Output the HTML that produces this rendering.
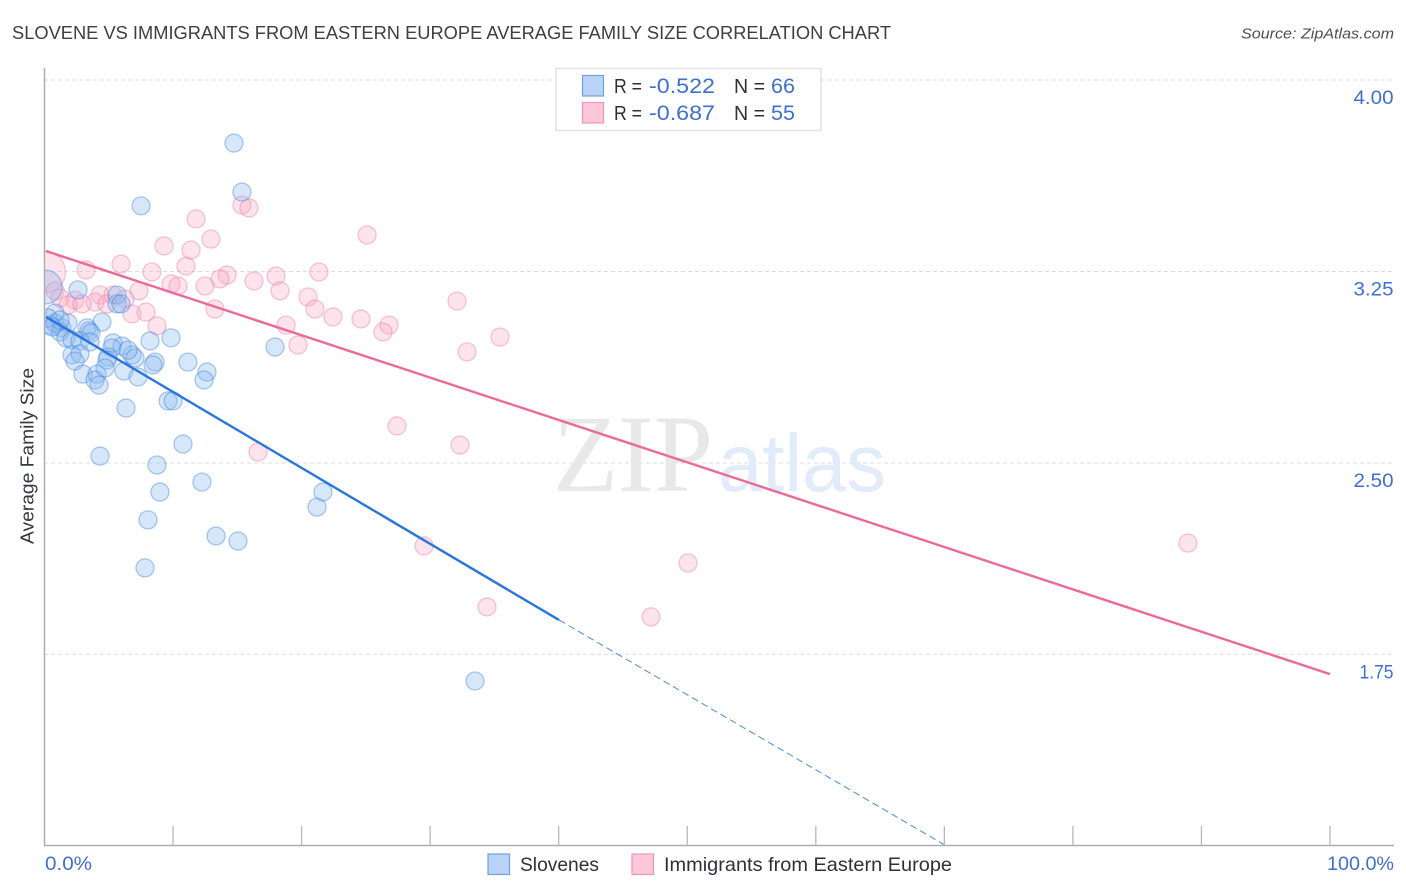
<!DOCTYPE html>
<html lang="en">
<head>
<meta charset="utf-8">
<title>Slovene vs Immigrants from Eastern Europe Average Family Size Correlation Chart</title>
<style>
html,body{margin:0;padding:0;background:#fff;}
svg{display:block;font-family:"Liberation Sans",sans-serif;}
</style>
</head>
<body>
<svg id="chart" xmlns="http://www.w3.org/2000/svg" width="1406" height="892" viewBox="0 0 1406 892">
  <defs>
    <clipPath id="plot-clip"><rect x="45" y="60" width="1349" height="785"/></clipPath>
  </defs>
  <rect x="0" y="0" width="1406" height="892" fill="#ffffff"/>
  <text x="12" y="39" font-size="18.5" fill="#3a4047" textLength="879" lengthAdjust="spacingAndGlyphs">SLOVENE VS IMMIGRANTS FROM EASTERN EUROPE AVERAGE FAMILY SIZE CORRELATION CHART</text>
  <text x="1394" y="38.500" font-size="15" font-style="italic" fill="#4a4f55" text-anchor="end" textLength="153" lengthAdjust="spacingAndGlyphs">Source: ZipAtlas.com</text>

  <g id="grid"></g>

  <g>
    <text x="553" y="491" font-family="'Liberation Serif',serif" font-size="110" fill="#e8e8e8" textLength="160" lengthAdjust="spacingAndGlyphs">ZIP</text>
    <text x="718" y="491" font-size="82" fill="#e2ebf9" textLength="168" lengthAdjust="spacingAndGlyphs">atlas</text>
  </g>

  <g id="points" clip-path="url(#plot-clip)"></g>
  <g id="trends"></g>

  <line x1="44.500" y1="68" x2="44.500" y2="846" stroke="#adadad" stroke-width="1.500"/>
  <line x1="44" y1="845.500" x2="1394" y2="845.500" stroke="#adadad" stroke-width="1.500"/>
  <g id="xticks"></g>
  <g id="ylabels"></g>

  <text x="45" y="870" font-size="19.500" fill="#3f6fd0" textLength="47" lengthAdjust="spacingAndGlyphs">0.0%</text>
  <text x="1394" y="870" font-size="19.500" fill="#3f6fd0" text-anchor="end" textLength="67" lengthAdjust="spacingAndGlyphs">100.0%</text>
  <text transform="translate(33.500,456) rotate(-90)" font-size="18" fill="#33383e" text-anchor="middle" textLength="176" lengthAdjust="spacingAndGlyphs">Average Family Size</text>

  <g>
    <rect x="556" y="68.500" width="265" height="62" fill="#ffffff" stroke="#e2e2e2" stroke-width="1.500"/>
    <rect x="582.500" y="75.500" width="21" height="20.500" fill="#b9d3f7" stroke="#6ea3e2" stroke-width="1.200"/>
    <rect x="582.500" y="102.500" width="21" height="20.500" fill="#fcc7d9" stroke="#f295b6" stroke-width="1.200"/>
    <text x="614" y="93" font-size="20" fill="#2d3238" textLength="28" lengthAdjust="spacingAndGlyphs">R =</text>
    <text x="649" y="93" font-size="21" fill="#3f6fd0" textLength="66" lengthAdjust="spacingAndGlyphs">-0.522</text>
    <text x="734" y="93" font-size="20" fill="#2d3238" textLength="31" lengthAdjust="spacingAndGlyphs">N =</text>
    <text x="771" y="93" font-size="21" fill="#3f6fd0" textLength="24" lengthAdjust="spacingAndGlyphs">66</text>
    <text x="614" y="120" font-size="20" fill="#2d3238" textLength="28" lengthAdjust="spacingAndGlyphs">R =</text>
    <text x="649" y="120" font-size="21" fill="#3f6fd0" textLength="66" lengthAdjust="spacingAndGlyphs">-0.687</text>
    <text x="734" y="120" font-size="20" fill="#2d3238" textLength="31" lengthAdjust="spacingAndGlyphs">N =</text>
    <text x="771" y="120" font-size="21" fill="#3f6fd0" textLength="24" lengthAdjust="spacingAndGlyphs">55</text>
  </g>

  <g>
    <rect x="488" y="854" width="21.500" height="20.500" fill="#b9d3f7" stroke="#6ea3e2" stroke-width="1.200"/>
    <text x="520" y="871" font-size="19.500" fill="#2d3238" textLength="79" lengthAdjust="spacingAndGlyphs">Slovenes</text>
    <rect x="632" y="854" width="21.500" height="20.500" fill="#fcc7d9" stroke="#f295b6" stroke-width="1.200"/>
    <text x="664" y="871" font-size="19.500" fill="#2d3238" textLength="288" lengthAdjust="spacingAndGlyphs">Immigrants from Eastern Europe</text>
  </g>
</svg>

<script>
const yTickValues = [4.00, 3.25, 2.50, 1.75];
const yTickLabels = ["4.00", "3.25", "2.50", "1.75"];
const xTickValues = [10, 20, 30, 40, 50, 60, 70, 80, 90, 100];

const sloveneX = [0.04,2.61,5.64,5.64,5.95,4.47,0.82,0.43,0.82,1.36,1.83,1.21,1.67,2.14,3.31,3.46,3.62,2.76,3.54,8.21,9.84,5.33,6.03,5.25,6.81,7.04,2.14,2.76,2.37,4.94,4.86,8.60,8.44,11.16,12.64,12.41,2.99,4.08,3.93,4.24,6.18,7.27,17.93,9.61,10.00,6.34,14.74,15.36,7.51,10.77,4.32,8.75,12.25,8.98,21.66,21.20,8.05,13.34,15.05,7.82,33.49,4.71,6.50,0.27,1.21,0.58];
const sloveneY = [3.189,3.178,3.158,3.123,3.123,3.052,3.087,3.040,3.048,3.029,3.048,3.013,2.990,2.982,3.029,3.017,3.009,2.978,2.974,2.978,2.990,2.970,2.958,2.950,2.923,2.911,2.923,2.927,2.899,2.915,2.903,2.895,2.884,2.895,2.856,2.825,2.848,2.848,2.825,2.805,2.860,2.837,2.954,2.743,2.743,2.715,3.753,3.561,3.507,2.574,2.527,2.492,2.425,2.386,2.386,2.327,2.277,2.214,2.194,2.089,1.646,2.872,2.942,3.068,3.060,3.033];
const sloveneRadius = [17,9,9,9,9,9,9,9,9,9,9,9,9,9,9,9,9,9,9,9,9,9,9,9,9,9,9,9,9,9,9,9,9,9,9,9,9,9,9,9,9,9,9,9,9,9,9,9,9,9,9,9,9,9,9,9,9,9,9,9,9,9,9,9,9,9];

const immigrantX = [0,11.79,15.36,15.91,25.09,9.30,11.40,12.95,3.23,5.95,8.36,11.01,14.20,13.65,16.30,18.01,21.35,12.49,9.84,10.39,7.35,18.32,0.82,1.21,4.32,5.33,6.26,3.93,2.37,1.83,2.92,4.86,20.50,21.04,13.26,32.09,6.81,7.90,22.44,24.62,8.75,18.79,26.80,26.33,19.72,35.43,32.87,27.42,32.32,16.61,29.52,88.95,50.06,34.42,47.18];
const immigrantY = [3.248,3.456,3.510,3.499,3.393,3.350,3.334,3.377,3.256,3.279,3.248,3.271,3.236,3.221,3.213,3.232,3.248,3.193,3.201,3.193,3.174,3.174,3.174,3.146,3.158,3.158,3.142,3.130,3.138,3.119,3.123,3.123,3.150,3.103,3.103,3.134,3.084,3.091,3.072,3.064,3.037,3.040,3.040,3.013,2.962,2.993,2.935,2.645,2.570,2.543,2.175,2.186,2.108,1.936,1.897];
const immigrantRadius = [21,9,9,9,9,9,9,9,9,9,9,9,9,9,9,9,9,9,9,9,9,9,9,9,9,9,9,9,9,9,9,9,9,9,9,9,9,9,9,9,9,9,9,9,9,9,9,9,9,9,9,9,9,9,9];

const sloveneTrendX = [0.12, 40.02, 70.05];
const sloveneTrendY = [3.072, 1.885, 1.003];
const immigrantTrendX = [0.12, 100];
const immigrantTrendY = [3.330, 1.673];

const SVG_NS = "http://www.w3.org/2000/svg";
function xScale(pct) { return 44.5 + pct * 12.855; }
function yScale(val) { return 80 + (4 - val) * 255.3; }
function make(tag, attrs, parent) {
  const el = document.createElementNS(SVG_NS, tag);
  for (const k in attrs) el.setAttribute(k, attrs[k]);
  parent.appendChild(el);
  return el;
}

const gridGroup = document.getElementById("grid");
const yLabelGroup = document.getElementById("ylabels");
yTickValues.forEach(function (v, i) {
  const line = make("line", {x1: 44, x2: 1394, y1: yScale(v), y2: yScale(v), stroke: "#dcdcdc", "stroke-width": 1, "stroke-dasharray": "4 3"}, gridGroup);
  
  
  const label = make("text", {x: 1393.5, y: yScale(v) + 24, "font-size": 19.5, fill: "#3f6fd0", "text-anchor": "end", textLength: i === 3 ? 34 : 40, lengthAdjust: "spacingAndGlyphs"}, yLabelGroup);
  
  
  label.textContent = yTickLabels[i];
});

const xTickGroup = document.getElementById("xticks");
xTickValues.forEach(function (v) {
  const tick = make("line", {x1: xScale(v), x2: xScale(v), y1: 826, y2: 845.5, stroke: "#b8b8b8", "stroke-width": 1.3}, xTickGroup);
  
  
});

const pointGroup = document.getElementById("points");
immigrantX.forEach(function (x, i) {
  const c = make("circle", {cx: xScale(x), cy: yScale(immigrantY[i]), r: immigrantRadius[i], fill: "#f9a8c4", "fill-opacity": 0.32, stroke: "#e8799f", "stroke-opacity": 0.42, "stroke-width": 1.3}, pointGroup);
  
  
});
sloveneX.forEach(function (x, i) {
  const c = make("circle", {cx: xScale(x), cy: yScale(sloveneY[i]), r: sloveneRadius[i], fill: "#8ab8f0", "fill-opacity": 0.34, stroke: "#3f80d8", "stroke-opacity": 0.42, "stroke-width": 1.3}, pointGroup);
  
  
});

const trendGroup = document.getElementById("trends");
const blueSolid = make("line", {x1: xScale(sloveneTrendX[0]), y1: yScale(sloveneTrendY[0]), x2: xScale(sloveneTrendX[1]), y2: yScale(sloveneTrendY[1]), stroke: "#2a76dc", "stroke-width": 2.4}, trendGroup);


const blueDash = make("line", {x1: xScale(sloveneTrendX[1]), y1: yScale(sloveneTrendY[1]), x2: xScale(sloveneTrendX[2]), y2: yScale(sloveneTrendY[2]), stroke: "#4a8ae0", "stroke-width": 1, "stroke-dasharray": "7 4"}, trendGroup);


const pinkLine = make("line", {x1: xScale(immigrantTrendX[0]), y1: yScale(immigrantTrendY[0]), x2: xScale(immigrantTrendX[1]), y2: yScale(immigrantTrendY[1]), stroke: "#ec6a98", "stroke-width": 2.4}, trendGroup);


</script>
</body>
</html>
